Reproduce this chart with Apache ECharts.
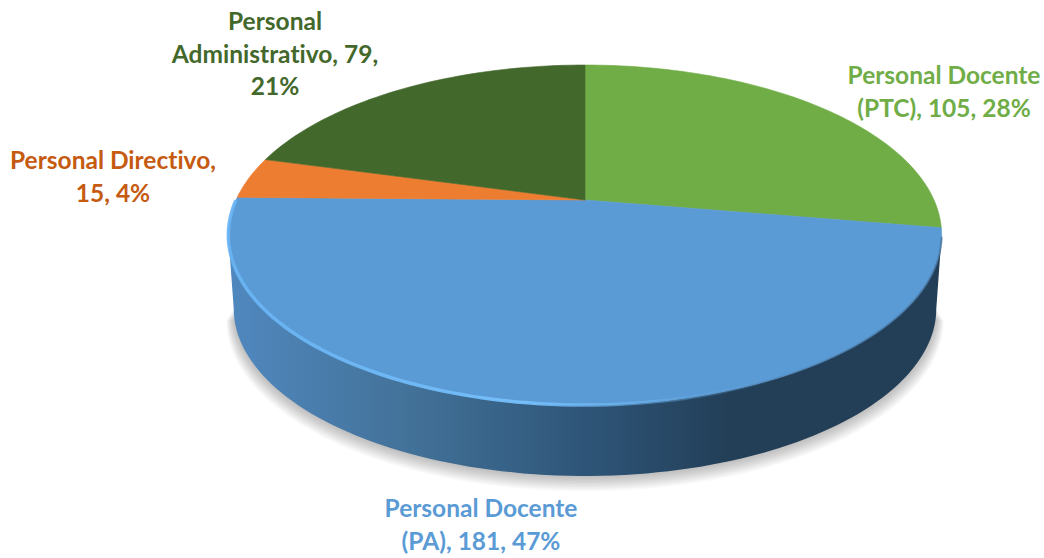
<!DOCTYPE html>
<html>
    <head>
        <meta charset="UTF-8">
        <title>Personal 3D pie</title>
        <script type="text/javascript" src="https://cdn.jsdelivr.net/npm/echarts@6/dist/echarts.min.js"></script>
        <style>
            #container text { font-variant-ligatures: none; }
        </style>
    </head>
    <body style="margin: 0; background: #fff;">
        <div id="container" style="width: 1044px; height: 558px;"></div>
    </body>
    <script type="text/javascript">
        var names = ['Personal Docente\n(PTC)', 'Personal Docente\n(PA)', 'Personal Directivo', 'Personal\nAdministrativo'];
        var values = [105, 181, 15, 79];
        var percents = [28, 47, 4, 21];
        // separators of the label text, as the picture wraps it
        var labelSeps = [[', ', ', '], [', ', ', '], [',\n', ', '], [', ', ',\n']];

        var sliceColors = ['#70AD47', '#5B9BD5', '#ED7D31', '#43682B'];
        var textColors = ['#70AD47', '#5B9BD5', '#C55A11', '#43682B'];
        var labelPos = [[944, 91], [481, 524], [113, 176], [275, 53]];

        // tilted disc: a circle seen through a projective mapping, apex is the pie centre
        var cx = 585, cy = 200, rx = 349, ry = 162.8, persp = 0.206;
        var depth = 74, bottomScale = 0.985;
        var total = values.reduce(function (a, b) { return a + b; }, 0);

        function rim(deg, scale, dy) {
            var t = deg * Math.PI / 180;
            var u = Math.sin(t), v = Math.cos(t), w = 1 + persp * v;
            return [cx + scale * rx * u / w, cy + dy - scale * ry * v / w];
        }
        function arc(a0, a1, scale, dy) {
            var pts = [], n = Math.max(2, Math.ceil((a1 - a0) / 1.5));
            for (var i = 0; i <= n; i++) {
                pts.push(rim(a0 + (a1 - a0) * i / n, scale, dy));
            }
            return pts;
        }
        var silhouette = Math.asin(persp) * 180 / Math.PI;

        function renderSlice(params, api) {
            var i = params.dataIndex;
            var start = 0;
            for (var k = 0; k < i; k++) start += values[k];
            var a0 = start / total * 360;
            var a1 = (start + api.value(0)) / total * 360;
            var children = [];

            // front wall, only where the wall faces the viewer
            var s0 = Math.max(a0, 90 + silhouette), s1 = Math.min(a1, 270 - silhouette);
            if (s1 > s0) {
                // soft ground shadow, stacked faint layers growing outward
                for (var j = 0; j < 12; j++) {
                    children.push({
                        type: 'polygon',
                        z2: 0,
                        shape: { points: arc(s0, s1, bottomScale + 0.0019 * (11 - j), depth + (11 - j)) },
                        style: { fill: 'rgba(0,0,0,0.022)' }
                    });
                }
                children.push({
                    type: 'polygon',
                    z2: 1,
                    shape: { points: arc(s0, s1, 1, 0).concat(arc(s0, s1, bottomScale, depth).reverse()) },
                    style: {
                        fill: new echarts.graphic.LinearGradient(1, 0, 0, 0, [
                            { offset: 0, color: '#233F58' },
                            { offset: 0.3, color: '#233F58' },
                            { offset: 0.5, color: '#2E5578' },
                            { offset: 0.75, color: '#437299' },
                            { offset: 1, color: '#5088BF' }
                        ])
                    }
                });
            }

            // top face
            children.push({
                type: 'polygon',
                z2: 2,
                shape: { points: [[cx, cy]].concat(arc(a0, a1, 1, 0)) },
                style: { fill: sliceColors[i], stroke: sliceColors[i], lineWidth: 0.6 }
            });

            // bevel along the rim: light on the left front, soft dark edge on the right
            if (s1 > s0) {
                children.push({
                    type: 'polyline',
                    z2: 3,
                    shape: { points: arc(a0 + 55, a1 - 1, 1, 0) },
                    style: {
                        fill: null,
                        lineWidth: 3.5,
                        stroke: new echarts.graphic.LinearGradient(1, 0, 0, 0, [
                            { offset: 0, color: 'rgba(110,185,250,0)' },
                            { offset: 0.45, color: 'rgba(118,192,252,0.95)' },
                            { offset: 1, color: 'rgba(105,180,245,0.9)' }
                        ])
                    }
                });
                children.push({
                    type: 'polyline',
                    z2: 3,
                    shape: { points: arc(a0 + 3, a0 + 75, 1, 0) },
                    style: {
                        fill: null,
                        lineWidth: 2,
                        stroke: new echarts.graphic.LinearGradient(1, 0, 0, 0, [
                            { offset: 0, color: 'rgba(60,100,140,0.6)' },
                            { offset: 1, color: 'rgba(60,100,140,0)' }
                        ])
                    }
                });
            }

            // data label
            children.push({
                type: 'text',
                z2: 4,
                style: {
                    text: names[i] + labelSeps[i][0] + api.value(0) + labelSeps[i][1] + percents[i] + '%',
                    x: labelPos[i][0],
                    y: labelPos[i][1],
                    align: 'center',
                    verticalAlign: 'middle',
                    fill: textColors[i],
                    fontFamily: 'Lato',
                    fontWeight: 'bold',
                    fontSize: 24.5,
                    lineHeight: 32.5
                }
            });
            return { type: 'group', children: children };
        }

        var myChart = echarts.init(document.getElementById('container'), null, { renderer: 'svg' });
        var option = {
            animation: false,
            backgroundColor: '#ffffff',
            series: [
                {
                    type: 'custom',
                    coordinateSystem: 'none',
                    silent: true,
                    renderItem: renderSlice,
                    data: values.map(function (v) { return [v]; })
                }
            ]
        };
        myChart.setOption(option);
    </script>
</html>
